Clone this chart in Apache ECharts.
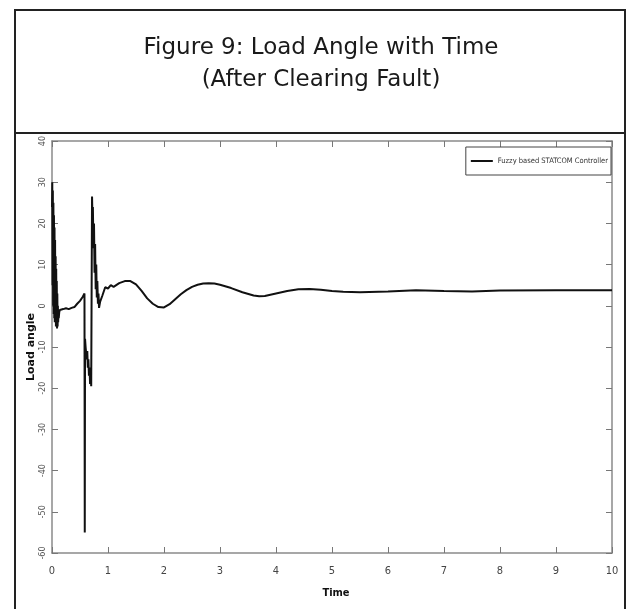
<!DOCTYPE html>
<html>
<head>
<meta charset="utf-8">
<script src="https://cdn.jsdelivr.net/npm/echarts@6/dist/echarts.min.js"></script>
<style>
html,body{margin:0;padding:0;background:#fff;}
#chart{width:638px;height:609px;}
</style>
</head>
<body>
<div id="chart"></div>
<script>
// ---- data ----
var titleLines = ["Figure 9: Load Angle with Time", "(After Clearing Fault)"];
var seriesName = "Fuzzy based STATCOM Controller";
var xTickLabels = ["0","1","2","3","4","5","6","7","8","9","10"];
var yTickLabels = ["-60","-50","-40","-30","-20","-10","0","10","20","30","40"];
var time = [
  0, 0.005, 0.01, 0.015, 0.02, 0.025, 0.03, 0.035, 0.04, 0.045, 0.05, 0.055, 0.06, 0.065,
  0.07, 0.075, 0.08, 0.085, 0.09, 0.095, 0.1, 0.105, 0.11, 0.115, 0.12, 0.13, 0.14, 0.16,
  0.2, 0.25, 0.3, 0.35, 0.4, 0.45, 0.5, 0.55, 0.58,
  0.585, 0.59, 0.6, 0.62, 0.63, 0.64, 0.65, 0.66, 0.67, 0.68, 0.69, 0.7,
  0.715, 0.725, 0.73, 0.74, 0.75, 0.76, 0.77, 0.78, 0.79, 0.8, 0.81, 0.82, 0.83, 0.84, 0.86,
  0.9, 0.95, 1.0, 1.05, 1.1, 1.2, 1.3, 1.4, 1.5, 1.6, 1.7, 1.8, 1.9, 2.0, 2.1, 2.2, 2.3,
  2.4, 2.5, 2.6, 2.7, 2.8, 2.9, 3.0, 3.2, 3.4, 3.6, 3.7, 3.8, 4.0, 4.2, 4.4, 4.6, 4.8,
  5.0, 5.2, 5.5, 6.0, 6.5, 7.0, 7.5, 8.0, 9.0, 10.0
];
var loadAngle = [
  24, 30, 5, 28, 0, 25, -2, 22, -3, 19, -4, 16, -4, 12,
  -5, 9, -5, 6, -5.5, 3, -5, 0, -4, -1.5, -3, -1.5, -1, -1.2,
  -0.8, -0.6, -0.8, -0.5, -0.3, 0.5, 1.2, 2.2, 3.0,
  -55, -8, -10, -13, -11, -15, -13, -17, -15, -19, -17, -19.5,
  26.5, 20, 24, 14, 20, 8, 15, 4, 10, 2, 6, 0.5, 3, -0.5, 1,
  2.5, 4.5, 4.2, 5, 4.6, 5.5, 6.0, 6.0, 5.2, 3.6, 1.8, 0.5, -0.3, -0.4, 0.4, 1.6, 2.8,
  3.8, 4.6, 5.1, 5.4, 5.5, 5.4, 5.1, 4.3, 3.3, 2.5, 2.3, 2.4, 3.0, 3.6, 4.0, 4.1, 3.9,
  3.6, 3.4, 3.3, 3.5, 3.8, 3.6, 3.5, 3.7, 3.8, 3.8
];

var points = time.map(function (t, i) { return [t, loadAngle[i]]; });

var chart = echarts.init(document.getElementById('chart'), null, {renderer: 'canvas'});
var narrow = "'DejaVu Sans Condensed','Liberation Sans Narrow','Roboto Condensed',sans-serif";
var axisLineStyle = {onZero: false, lineStyle: {color: '#8a8a8a', width: 1.5}};
var tickStyle = {inside: true, length: 6, lineStyle: {color: '#777'}};
var option = {
  backgroundColor: '#fff',
  animation: false,
  title: {
    text: titleLines.join('\n'),
    left: 316, top: 27, textAlign: 'center',
    textStyle: {fontFamily: "'DejaVu Sans','Noto Sans',sans-serif", fontWeight: 'normal', fontSize: 23, lineHeight: 32, color: '#1a1a1a'}
  },
  graphic: [
    {type: 'rect', shape: {x: 15, y: 10, width: 610, height: 620}, style: {fill: 'none', stroke: '#222', lineWidth: 2}, z: 100},
    {type: 'line', shape: {x1: 15, y1: 133, x2: 625, y2: 133}, style: {stroke: '#222', lineWidth: 2}, z: 100}
  ],
  legend: {
    data: [seriesName],
    right: 27, top: 147,
    orient: 'vertical',
    backgroundColor: '#fff',
    borderColor: '#444', borderWidth: 1, borderRadius: 0,
    padding: [10, 3, 10, 5],
    itemWidth: 22, itemHeight: 2, itemGap: 2,
    icon: 'rect',
    textStyle: {fontFamily: narrow, fontSize: 7.5, color: '#333'}
  },
  grid: {left: 52, right: 26, top: 141, bottom: 56},
  xAxis: [
    {
      type: 'value', position: 'bottom', min: 0, max: 10, interval: 1,
      axisLine: axisLineStyle, axisTick: tickStyle, splitLine: {show: false},
      name: 'Time', nameLocation: 'middle', nameGap: 35, nameMoveOverlap: false,
      nameTextStyle: {fontFamily: narrow, fontWeight: 'bold', fontSize: 11, color: '#111', padding: [0, 0, 0, 8]},
      axisLabel: {fontFamily: narrow, fontSize: 11, color: '#444', margin: 13,
        formatter: function (v) { return xTickLabels[Math.round(v)]; }}
    },
    {
      type: 'value', position: 'top', min: 0, max: 10, interval: 1,
      axisLine: axisLineStyle, axisTick: tickStyle, splitLine: {show: false},
      axisLabel: {show: false}
    }
  ],
  yAxis: [
    {
      type: 'value', position: 'left', min: -60, max: 40, interval: 10,
      axisLine: axisLineStyle, axisTick: tickStyle, splitLine: {show: false},
      name: 'Load angle', nameLocation: 'middle', nameGap: 15, nameRotate: 90, nameMoveOverlap: false,
      nameTextStyle: {fontFamily: "'DejaVu Sans',sans-serif", fontWeight: 'bold', fontSize: 11, color: '#111'},
      axisLabel: {rotate: 90, fontFamily: narrow, fontSize: 9, color: '#555', margin: 5,
        formatter: function (v) { return yTickLabels[Math.round((v + 60) / 10)]; }}
    },
    {
      type: 'value', position: 'right', min: -60, max: 40, interval: 10,
      axisLine: axisLineStyle, axisTick: tickStyle, splitLine: {show: false},
      axisLabel: {show: false}
    }
  ],
  series: [{
    name: seriesName,
    type: 'line',
    data: points,
    showSymbol: false,
    symbol: 'none',
    lineStyle: {color: '#111', width: 2},
    itemStyle: {color: '#111'}
  }]
};
chart.setOption(option);
</script>
</body>
</html>
